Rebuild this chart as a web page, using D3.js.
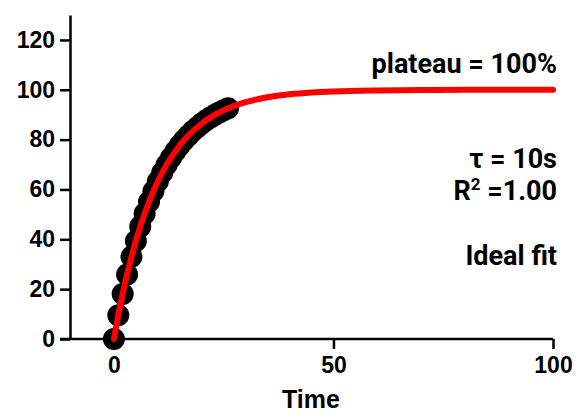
<!DOCTYPE html>
<html>
<head>
<meta charset="utf-8">
<script src="https://cdn.jsdelivr.net/npm/d3@7"></script>
<style>
  body { margin: 0; background: #fff; }
  .axis text { font-family: "Liberation Sans", Arial, sans-serif; font-weight: bold; font-size: 23px; fill: #000; }
  .axis path, .axis line { stroke: #000; stroke-width: 2.5px; }
  .note { font-family: Roboto, "Noto Sans", sans-serif; font-weight: bold; font-size: 27px; fill: #000; }
</style>
</head>
<body>
<svg id="chart"></svg>
<script>
// measured data (time in s, response in %)
const dataTime = [0, 1, 2, 3, 4, 5, 6, 7, 8, 9, 10, 11, 12, 13, 14, 15, 16, 17, 18, 19, 20, 21, 22, 23, 24, 25, 26];
const dataValue = [0, 9.5, 18.1, 25.9, 33.0, 39.3, 45.1, 50.3, 55.1, 59.3, 63.2, 66.7, 69.9, 72.7, 75.3,
  77.7, 79.8, 81.7, 83.5, 85.0, 86.5, 87.8, 88.9, 90.0, 90.9, 91.8, 92.6];

// fitted curve
const fitTime = [0, 1, 2, 3, 4, 5, 6, 8, 10, 12, 15, 20, 25, 30, 35, 40, 45, 50, 60, 70, 80, 90, 100];
const fitValue = [0, 9.52, 18.13, 25.92, 32.97, 39.35, 45.12, 55.07, 63.21, 69.88, 77.69, 86.47, 91.79,
  95.02, 96.98, 98.17, 98.89, 99.33, 99.75, 99.91, 99.97, 99.99, 100];

const xTicks = [0, 50, 100];
const yTicks = [0, 20, 40, 60, 80, 100, 120];

const width = 585, height = 418;
const svg = d3.select('#chart').attr('width', width).attr('height', height);

const x = d3.scaleLinear().domain([-10, 100]).range([70, 553]);
const y = d3.scaleLinear().domain([0, 130]).range([339, 15]);

// y axis
const yAxis = d3.axisLeft(y).tickValues(yTicks).tickSize(10).tickSizeOuter(0).tickPadding(5);
svg.append('g')
    .attr('class', 'axis y-axis')
    .attr('transform', `translate(${x(-10)},0)`)
    .call(yAxis);

// x axis, line runs out to the end of the y ticks
const xAxis = d3.axisBottom(x).tickValues(xTicks).tickSize(10).tickSizeOuter(0).tickPadding(8);
svg.append('g')
    .attr('class', 'axis x-axis')
    .attr('transform', `translate(0,${y(0)})`)
    .call(xAxis)
    .call(g => g.select('.domain').attr('d', `M${x(-10) - 10},0H${x(100)}`));

svg.append('text')
    .attr('x', 311)
    .attr('y', 408)
    .attr('text-anchor', 'middle')
    .style('font-family', '"Liberation Sans", Arial, sans-serif')
    .style('font-weight', 'bold')
    .style('font-size', '25px')
    .text('Time');

// data points
const points = dataTime.map((t, i) => ({t: t, v: dataValue[i]}));
svg.append('g')
  .selectAll('circle')
  .data(points)
  .join('circle')
    .attr('cx', d => x(d.t))
    .attr('cy', d => y(d.v))
    .attr('r', 11)
    .attr('fill', '#000');

// fit line
const fit = fitTime.map((t, i) => ({t: t, v: fitValue[i]}));
svg.append('path')
    .datum(fit)
    .attr('fill', 'none')
    .attr('stroke', '#ff0000')
    .attr('stroke-width', 6)
    .attr('stroke-linecap', 'round')
    .attr('d', d3.line().x(d => x(d.t)).y(d => y(d.v)).curve(d3.curveMonotoneX));

// annotations
const notes = svg.append('g').attr('class', 'note').attr('text-anchor', 'end');
notes.append('text').attr('x', 557).attr('y', 73).text('plateau = 100%');
notes.append('text').attr('x', 557).attr('y', 168).text('\u03C4 = 10s');
const r2 = notes.append('text').attr('x', 557).attr('y', 200);
r2.append('tspan').text('R');
r2.append('tspan').attr('dy', -10).style('font-size', '17px').text('2');
r2.append('tspan').attr('dy', 10).text(' =1.00');
notes.append('text').attr('x', 557).attr('y', 265).text('Ideal fit');
</script>
</body>
</html>
